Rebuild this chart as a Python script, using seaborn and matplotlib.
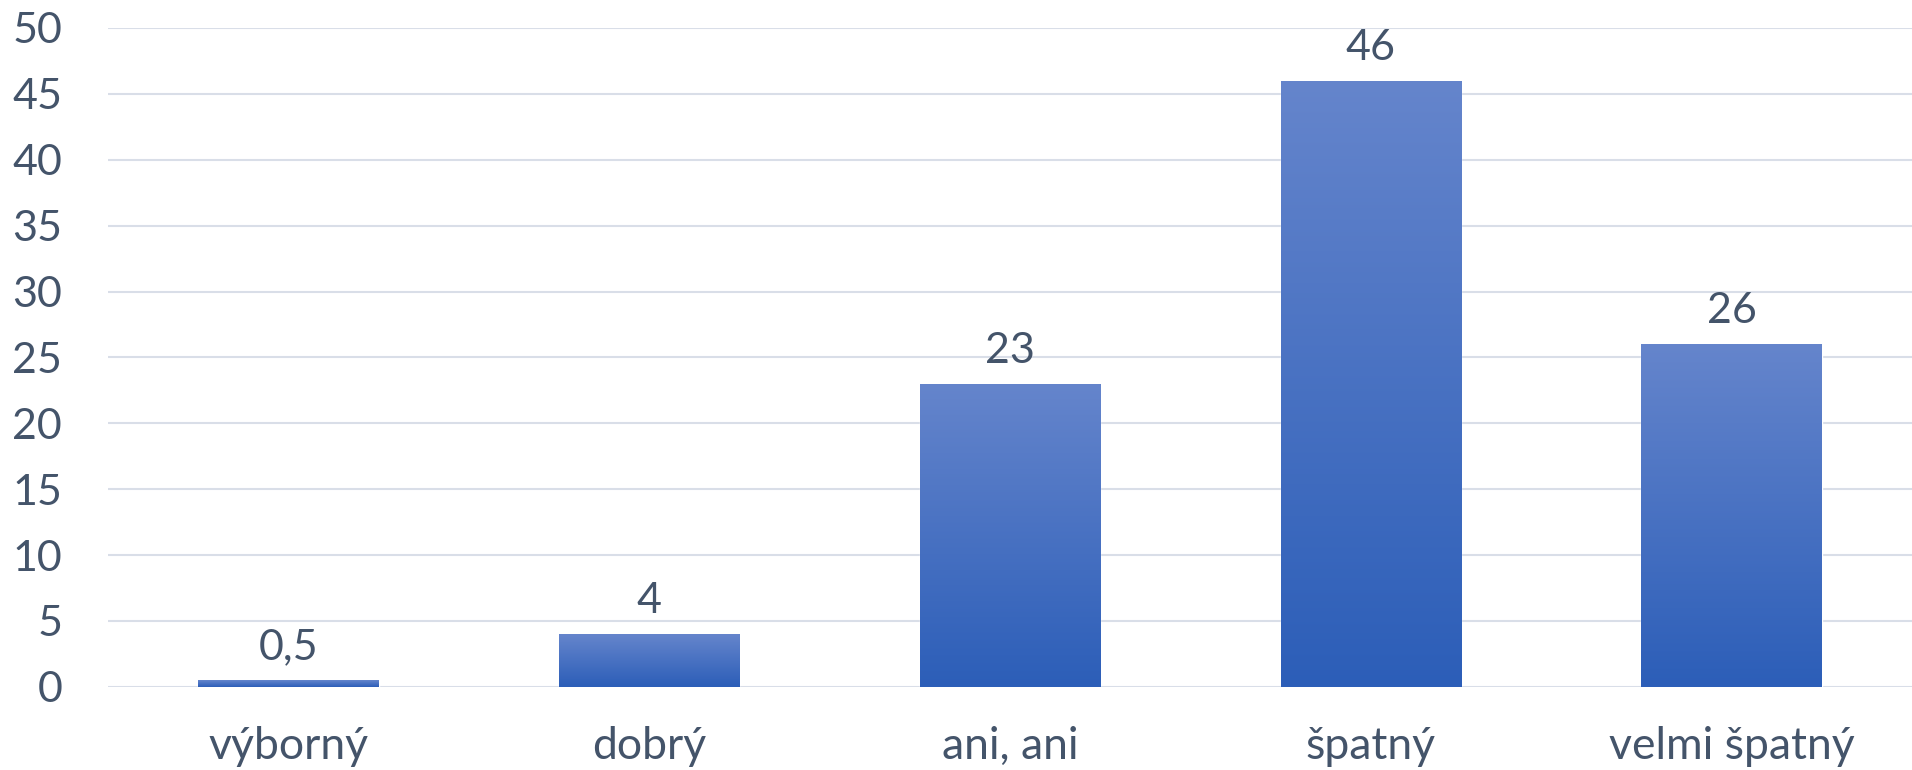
import numpy as np
import pandas as pd
import matplotlib
matplotlib.use("Agg")
import matplotlib.pyplot as plt
from matplotlib.colors import LinearSegmentedColormap
import seaborn as sns

categories = ["výborný", "dobrý", "ani, ani", "špatný", "velmi špatný"]
values = [0.5, 4, 23, 46, 26]
value_labels = ["0,5", "4", "23", "46", "26"]

TEXT = "#44546A"
GRID = "#D9DEE8"

sns.set_theme(style="white")
plt.rcParams["font.family"] = ["Lato", "DejaVu Sans"]

df = pd.DataFrame({"kategorie": categories, "hodnota": values})

fig = plt.figure(figsize=(19.12, 7.7), dpi=100)
ax = fig.add_axes([0.0565, 0.108, 0.9435, 0.8557])

sns.barplot(data=df, x="kategorie", y="hodnota", color="#4472C4",
            width=0.5, ax=ax, saturation=1)

ax.set_ylim(0, 50)
ax.set_yticks(range(0, 51, 5))
ax.grid(axis="y", color=GRID, linewidth=1.5)
ax.set_axisbelow(True)
for s in ax.spines.values():
    s.set_visible(False)
ax.set_xlabel("")
ax.set_ylabel("")
ax.tick_params(axis="y", length=0, pad=33, labelsize=31, labelcolor=TEXT)
ax.tick_params(axis="x", length=0, pad=28, labelsize=32, labelcolor=TEXT)

# gradient fill like the Excel original
cmap = LinearSegmentedColormap.from_list("grad", ["#2C5EB8", "#6585CC"])
grad = np.linspace(0, 1, 256).reshape(-1, 1)
for patch, lab in zip(ax.patches, value_labels):
    x0, y0 = patch.get_x(), patch.get_y()
    w, h = patch.get_width(), patch.get_height()
    im = ax.imshow(grad, cmap=cmap, aspect="auto", origin="lower",
                   extent=[x0, x0 + w, y0, y0 + h], zorder=patch.get_zorder())
    im.set_clip_path(patch)
    ax.annotate(lab, (x0 + w / 2, y0 + h), xytext=(0, 10),
                textcoords="offset points", ha="center", va="bottom",
                fontsize=31, color=TEXT)

ax.set_xlim(-0.5, len(categories) - 0.5)
ax.set_ylim(0, 50)

fig.savefig("out.png", dpi=100)
